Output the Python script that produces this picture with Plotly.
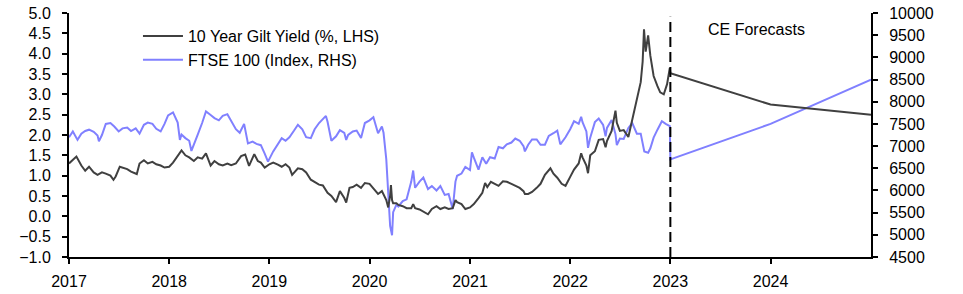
import plotly.graph_objects as go

# ---------------- data ----------------
gilt_dates = [
    "2017-01-01","2017-01-15","2017-01-28","2017-02-15","2017-03-01","2017-03-15","2017-04-01","2017-04-15",
    "2017-05-01","2017-05-15","2017-06-01","2017-06-12","2017-06-20","2017-07-05","2017-07-15","2017-08-01",
    "2017-08-15","2017-09-05","2017-09-15","2017-10-01","2017-10-15","2017-11-01","2017-11-15","2017-12-01",
    "2017-12-15",
    "2018-01-01","2018-01-15","2018-02-01","2018-02-15","2018-03-01","2018-03-15","2018-04-01","2018-04-15",
    "2018-05-01","2018-05-15","2018-06-01","2018-06-15","2018-07-01","2018-07-15","2018-08-01","2018-08-15",
    "2018-09-01","2018-09-20","2018-10-05","2018-10-19","2018-11-07","2018-11-20","2018-12-01","2018-12-15",
    "2019-01-01","2019-01-15","2019-02-01","2019-02-15","2019-03-01","2019-03-15","2019-03-25","2019-04-15",
    "2019-05-01","2019-05-15","2019-06-01","2019-06-15","2019-07-01","2019-07-15","2019-08-01","2019-08-15",
    "2019-09-01","2019-09-15","2019-10-01","2019-10-08","2019-10-20","2019-11-01","2019-11-15","2019-12-01",
    "2019-12-15",
    "2020-01-01","2020-01-15","2020-02-01","2020-02-15","2020-02-21","2020-03-02","2020-03-09","2020-03-16",
    "2020-03-19","2020-03-23","2020-03-27","2020-04-08","2020-04-15","2020-05-01","2020-05-15","2020-06-01",
    "2020-06-08","2020-06-15","2020-07-01","2020-07-15","2020-08-01","2020-08-15","2020-09-01","2020-09-15",
    "2020-10-01","2020-10-15","2020-10-30","2020-11-09","2020-11-15","2020-12-01","2020-12-15",
    "2021-01-01","2021-01-15","2021-02-01","2021-02-15","2021-02-25","2021-03-05","2021-03-18","2021-04-01",
    "2021-04-15","2021-05-01","2021-05-15","2021-06-01","2021-06-15","2021-07-01","2021-07-15","2021-07-20",
    "2021-08-01","2021-08-15","2021-09-01","2021-09-15","2021-10-01","2021-10-21","2021-11-01","2021-11-15",
    "2021-12-01","2021-12-15",
    "2022-01-01","2022-01-15","2022-02-01","2022-02-10","2022-02-15","2022-03-01","2022-03-07","2022-03-15",
    "2022-04-01","2022-04-15","2022-05-01","2022-05-10","2022-05-15","2022-06-01","2022-06-15","2022-06-20",
    "2022-07-01","2022-07-15","2022-08-01","2022-08-15","2022-09-01","2022-09-15","2022-09-22","2022-09-27",
    "2022-10-03","2022-10-12","2022-10-20","2022-11-01","2022-11-15","2022-11-25","2022-12-08","2022-12-20",
    "2022-12-30",
]
gilt_values = [
    1.30,1.40,1.47,1.25,1.12,1.22,1.08,1.02,
    1.08,1.05,1.00,0.90,0.98,1.22,1.20,1.16,
    1.10,1.04,1.30,1.38,1.30,1.34,1.28,1.25,
    1.20,
    1.22,1.32,1.50,1.62,1.50,1.45,1.36,1.45,
    1.42,1.55,1.25,1.36,1.28,1.25,1.30,1.26,
    1.30,1.48,1.52,1.24,1.53,1.36,1.32,1.20,
    1.28,1.32,1.27,1.22,1.28,1.20,1.02,1.18,
    1.16,1.08,0.90,0.85,0.78,0.76,0.58,0.50,
    0.35,0.62,0.45,0.34,0.70,0.72,0.78,0.70,
    0.82,
    0.80,0.68,0.55,0.62,0.55,0.40,0.22,0.50,
    0.77,0.40,0.32,0.32,0.28,0.25,0.20,0.20,
    0.30,0.20,0.17,0.12,0.05,0.18,0.25,0.18,
    0.22,0.18,0.20,0.40,0.35,0.30,0.18,
    0.22,0.30,0.45,0.58,0.82,0.72,0.85,0.80,
    0.75,0.86,0.85,0.80,0.76,0.70,0.62,0.55,
    0.55,0.60,0.70,0.80,1.02,1.18,1.05,0.95,
    0.80,0.75,
    0.97,1.15,1.30,1.55,1.45,1.25,1.06,1.50,
    1.60,1.88,1.90,1.70,1.85,2.10,2.60,2.30,
    2.10,2.12,1.95,2.37,2.85,3.30,3.80,4.60,
    4.05,4.45,3.95,3.45,3.20,3.05,3.00,3.25,
    3.65,
]

ftse_dates = [
    "2017-01-01","2017-01-15","2017-02-01","2017-02-15","2017-03-01","2017-03-15","2017-04-01","2017-04-15",
    "2017-04-20","2017-05-01","2017-05-15","2017-06-01","2017-06-15","2017-07-01","2017-07-15","2017-08-01",
    "2017-08-15","2017-09-01","2017-09-15","2017-10-01","2017-10-15","2017-11-01","2017-11-15","2017-12-01",
    "2017-12-15","2017-12-28",
    "2018-01-15","2018-02-01","2018-02-09","2018-02-15","2018-03-01","2018-03-15","2018-03-23","2018-04-01",
    "2018-04-15","2018-05-01","2018-05-15","2018-06-01","2018-06-15","2018-07-01","2018-07-15","2018-08-01",
    "2018-08-15","2018-09-01","2018-09-15","2018-10-01","2018-10-15","2018-11-01","2018-11-15","2018-12-01",
    "2018-12-15","2018-12-27",
    "2019-01-15","2019-02-01","2019-02-15","2019-03-01","2019-03-15","2019-04-01","2019-04-15","2019-05-01",
    "2019-05-15","2019-06-01","2019-06-15","2019-07-01","2019-07-26","2019-08-01","2019-08-15","2019-09-01",
    "2019-09-15","2019-10-01","2019-10-08","2019-10-15","2019-11-01","2019-11-15","2019-12-01","2019-12-15",
    "2020-01-01","2020-01-15","2020-02-01","2020-02-15","2020-02-21","2020-03-02","2020-03-09","2020-03-16",
    "2020-03-23","2020-03-27","2020-04-08","2020-04-15","2020-05-01","2020-05-15","2020-06-01","2020-06-08",
    "2020-06-15","2020-07-01","2020-07-15","2020-08-01","2020-08-15","2020-09-01","2020-09-15","2020-10-01",
    "2020-10-15","2020-10-30","2020-11-09","2020-11-15","2020-12-01","2020-12-15",
    "2021-01-01","2021-01-08","2021-01-15","2021-02-01","2021-02-15","2021-03-01","2021-03-15","2021-04-01",
    "2021-04-15","2021-05-01","2021-05-15","2021-06-01","2021-06-15","2021-07-01","2021-07-15","2021-07-20",
    "2021-08-01","2021-08-15","2021-09-01","2021-09-15","2021-10-01","2021-10-15","2021-11-01","2021-11-15",
    "2021-11-26","2021-12-15",
    "2022-01-01","2022-01-15","2022-02-01","2022-02-10","2022-02-15","2022-03-01","2022-03-07","2022-03-15",
    "2022-04-01","2022-04-15","2022-05-01","2022-05-10","2022-05-15","2022-06-01","2022-06-15","2022-06-20",
    "2022-07-01","2022-07-15","2022-08-01","2022-08-15","2022-09-01","2022-09-15","2022-09-28","2022-10-12",
    "2022-10-20","2022-11-01","2022-11-15","2022-12-01","2022-12-15","2022-12-30",
]
ftse_values = [
    7200,7330,7140,7280,7340,7370,7320,7240,
    7110,7250,7500,7520,7440,7330,7400,7420,
    7340,7400,7280,7480,7530,7500,7390,7330,
    7500,7690,
    7760,7530,7140,7260,7180,7120,6890,7050,
    7260,7520,7780,7700,7630,7580,7680,7720,
    7560,7380,7300,7500,7060,7100,7050,7020,
    6830,6650,
    6880,7050,7180,7120,7200,7350,7480,7380,
    7200,7180,7380,7520,7680,7550,7120,7220,
    7360,7300,7140,7250,7330,7350,7180,7520,
    7580,7650,7290,7440,7300,6700,6000,5200,
    4990,5510,5680,5640,5760,5800,6200,6450,
    6060,6200,6290,6030,6100,6000,6100,5900,
    5920,5580,6200,6330,6380,6530,
    6460,6860,6740,6470,6750,6600,6750,6720,
    6980,6950,7040,7080,7170,7120,7000,6880,
    7030,7150,7150,7030,7030,7230,7290,7350,
    7040,7200,
    7380,7560,7500,7660,7540,7330,6960,7190,
    7540,7620,7480,7220,7410,7590,7270,7020,
    7170,7160,7410,7520,7280,7280,6880,6850,
    6950,7190,7370,7560,7500,7450,
]

forecast_dates = ["2023-01-01", "2024-01-01", "2025-01-01"]
gilt_forecast = [3.52, 2.75, 2.50]
ftse_forecast = [6700, 7500, 8500]

year_ticks = ["2017-01-01","2018-01-01","2019-01-01","2020-01-01",
              "2021-01-01","2022-01-01","2023-01-01","2024-01-01"]
year_labels = ["2017","2018","2019","2020","2021","2022","2023","2024"]
forecast_start = "2023-01-01"

# ---------------- figure ----------------
FONT = "Liberation Sans, Arial, sans-serif"
fig = go.Figure()

fig.add_trace(go.Scatter(
    x=gilt_dates + forecast_dates, y=gilt_values + gilt_forecast,
    name="10 Year Gilt Yield (%, LHS)", mode="lines",
    line=dict(color="#404040", width=2), yaxis="y2"))
fig.add_trace(go.Scatter(
    x=ftse_dates + forecast_dates, y=ftse_values + ftse_forecast,
    name="FTSE 100 (Index, RHS)", mode="lines",
    line=dict(color="#8080ff", width=2), yaxis="y"))

axis_common = dict(showgrid=False, zeroline=False, automargin=False,
                   showline=True, linecolor="black", linewidth=2,
                   ticks="outside", ticklen=5, tickwidth=2, tickcolor="black")

fig.update_layout(
    width=963, height=294,
    margin=dict(l=69, r=92, t=13, b=37, autoexpand=False),
    paper_bgcolor="white", plot_bgcolor="white",
    font=dict(family=FONT, size=16, color="#000000"),
    showlegend=True,
    legend=dict(x=0.086, y=0.975, xanchor="left", yanchor="top",
                bgcolor="rgba(255,255,255,0)", borderwidth=0,
                font=dict(size=16), itemwidth=40, tracegroupgap=0),
    xaxis=dict(type="date", range=["2017-01-01", "2025-01-01"],
               tickvals=year_ticks, ticktext=year_labels,
               ticklabelstandoff=4, **axis_common),
    yaxis2=dict(range=[-1, 5], dtick=0.5, tick0=-1, tickformat=".1f",
                side="left", ticklabelstandoff=8, **axis_common),
    yaxis=dict(range=[4500, 10000], dtick=500, tick0=4500, tickformat="d",
               side="right", ticklabelstandoff=8, **axis_common),
)
fig.update_layout(yaxis2=dict(overlaying="y"))

fig.add_shape(type="line", xref="x", yref="paper",
              x0=forecast_start, x1=forecast_start, y0=0, y1=0.985,
              line=dict(color="black", width=2, dash="10px,5px"))

fig.add_annotation(text="CE Forecasts", xref="paper", yref="paper",
                   x=0.794, y=0.934, xanchor="left", yanchor="middle",
                   showarrow=False, font=dict(family=FONT, size=16, color="black"))

fig.write_html("out.html")
